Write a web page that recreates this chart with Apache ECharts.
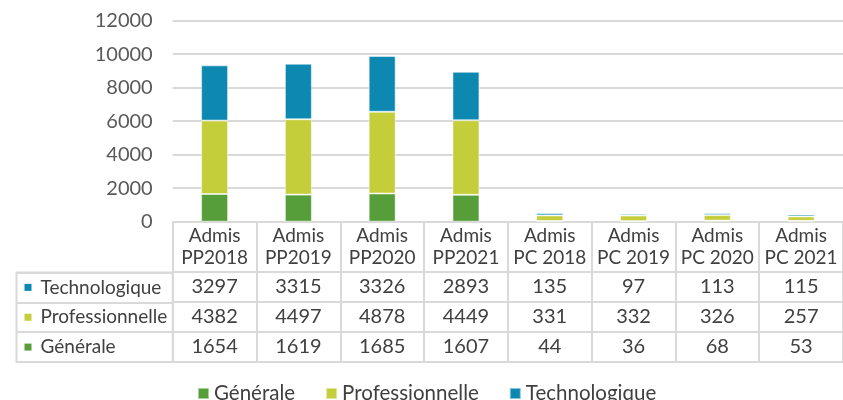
<!DOCTYPE html>
<html>
<head>
<meta charset="utf-8">
<script src="https://cdn.jsdelivr.net/npm/echarts@6/dist/echarts.min.js"></script>
<style>
  html, body { margin: 0; padding: 0; background: #fff; }
  #chart { width: 843px; height: 400px; }
</style>
</head>
<body>
<div id="chart"></div>
<script>
// catégories (en-têtes du tableau)
const categories = ['Admis\nPP2018', 'Admis\nPP2019', 'Admis\nPP2020', 'Admis\nPP2021',
  'Admis\nPC 2018', 'Admis\nPC 2019', 'Admis\nPC 2020', 'Admis\nPC 2021'];
const generale = [1654, 1619, 1685, 1607, 44, 36, 68, 53];
const professionnelle = [4382, 4497, 4878, 4449, 331, 332, 326, 257];
const technologique = [3297, 3315, 3326, 2893, 135, 97, 113, 115];
const yTicks = [0, 12000, 2000]; // min, max, pas

const colors = { g: '#559E3A', p: '#C3CE3A', t: '#0D89B1' };
const lineColor = '#d9d9d9';
const font = 'Lato';
const txt = '#404040';

const chart = echarts.init(document.getElementById('chart'));

// un axe x par ligne du tableau
function rowAxis(offset, values) {
  return {
    type: 'category',
    gridIndex: 0,
    position: 'bottom',
    offset: offset,
    data: categories,
    axisLine: { show: true, lineStyle: { color: lineColor, width: 2 } },
    axisTick: { show: values != null, interval: 0, length: 30, lineStyle: { color: lineColor, width: 2 } },
    axisLabel: {
      show: values != null,
      interval: 0,
      margin: 5,
      fontFamily: font,
      fontSize: 20,
      lineHeight: 20,
      color: txt,
      formatter: (v, i) => values ? String(values[i]) : ''
    }
  };
}

const option = {
  animation: false,
  grid: [
    { left: 172.7, top: 20.7, width: 684.8, height: 201 },
    { left: 16.5, top: 272.5, width: 156.2, height: 89.5, show: true, borderColor: lineColor, borderWidth: 2 }
  ],
  legend: {
    data: ['Générale', 'Professionnelle', 'Technologique'],
    left: 192,
    top: 378,
    icon: 'rect',
    itemWidth: 11,
    itemHeight: 11,
    itemGap: 30,
    textStyle: { fontFamily: font, fontSize: 20.5, color: txt }
  },
  xAxis: [
    {
      type: 'category',
      gridIndex: 0,
      position: 'bottom',
      data: categories,
      axisLine: { show: true, lineStyle: { color: lineColor, width: 2 } },
      axisTick: { show: true, interval: 0, length: 50, lineStyle: { color: lineColor, width: 2 } },
      axisLabel: { interval: 0, margin: 3, fontFamily: font, fontSize: 19, lineHeight: 22, color: txt }
    },
    rowAxis(50, technologique),
    rowAxis(80, professionnelle),
    rowAxis(110, generale),
    rowAxis(140, null),
    { type: 'value', gridIndex: 1, show: false }
  ],
  yAxis: [
    {
      type: 'value',
      gridIndex: 0,
      min: yTicks[0],
      max: yTicks[1],
      interval: yTicks[2],
      axisLine: { show: false },
      axisTick: { show: false },
      splitLine: { lineStyle: { color: lineColor, width: 2 } },
      axisLabel: { margin: 20, fontFamily: font, fontSize: 20, color: '#595959', formatter: v => String(v) }
    },
    {
      type: 'category',
      gridIndex: 1,
      data: ['Générale', 'Professionnelle', 'Technologique'],
      axisLine: { show: false },
      axisTick: { show: false },
      splitLine: { show: true, lineStyle: { color: lineColor, width: 2 } },
      axisLabel: {
        inside: true,
        margin: 8,
        fontFamily: font,
        fontSize: 19,
        color: txt,
        formatter: v => {
          const k = v === 'Générale' ? 'g' : (v === 'Professionnelle' ? 'p' : 't');
          return '{' + k + '|}{n|' + v + '}';
        },
        rich: {
          g: { width: 7, height: 7, backgroundColor: colors.g },
          p: { width: 7, height: 7, backgroundColor: colors.p },
          t: { width: 7, height: 7, backgroundColor: colors.t },
          n: { padding: [0, 0, 0, 9], fontFamily: font, fontSize: 19, color: txt }
        }
      }
    }
  ],
  series: [
    { name: 'Générale', data: generale, color: colors.g },
    { name: 'Professionnelle', data: professionnelle, color: colors.p },
    { name: 'Technologique', data: technologique, color: colors.t }
  ].map(s => ({
    name: s.name,
    type: 'bar',
    stack: 'total',
    xAxisIndex: 0,
    yAxisIndex: 0,
    barWidth: 27,
    data: s.data,
    itemStyle: { color: s.color, borderColor: 'rgba(255,255,255,0.5)', borderWidth: 1 }
  }))
};

chart.setOption(option);
</script>
</body>
</html>
